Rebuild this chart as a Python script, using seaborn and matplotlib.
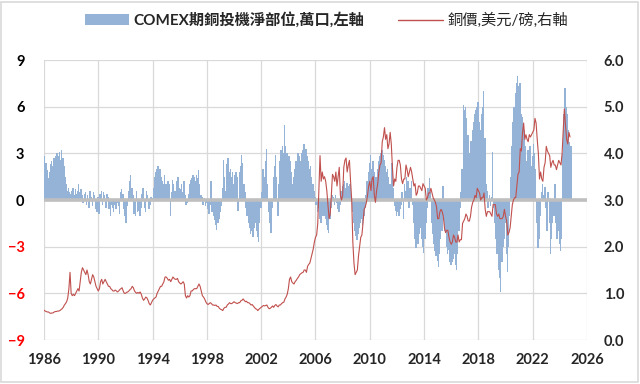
import numpy as np
import pandas as pd
import matplotlib
matplotlib.use('Agg')
import matplotlib.pyplot as plt
import seaborn as sns
from matplotlib.patches import Rectangle, Patch
from matplotlib.lines import Line2D

start_year = 1986

# COMEX copper speculative net position, 10k contracts, monthly (left axis)
net_pos = [
    2.8, 2.4, 1.9, 1.4, 1.8, 2.3, 2.5, 2.2, 2.7, 2.6, 2.8, 3.0,        # 1986
    2.8, 3.1, 2.6, 3.2, 2.7, 2.2, 1.5, 1.0, 0.6, 0.8, 0.5, 0.4,        # 1987
    0.6, 0.8, 0.3, 0.7, 0.4, 0.6, 1.0, 0.5, 0.7, 0.3, -0.2, 0.4,       # 1988
    0.5, -0.3, 0.3, -0.5, 0.6, 0.2, -0.4, 0.5, 0.3, -0.6, -0.8, 0.2,   # 1989
    -0.9, 0.4, 0.6, -0.3, 0.5, 0.3, -0.5, 0.4, 0.2, -0.6, -1.0, -0.3,  # 1990
    -0.5, -0.8, -0.3, -0.6, -0.2, -0.4, -0.9, 0.5, 0.7, 0.4, -0.6, -1.0,  # 1991
    -1.5, -0.4, 0.6, 1.2, 1.6, 0.8, 0.3, -0.9, -1.0, 0.6, -0.8, -0.7,  # 1992
    -1.0, -0.5, 0.4, 0.8, -0.5, -0.8, 0.6, 0.3, -0.6, -0.3, 0.2, 0.1,  # 1993
    0.8, 1.5, 1.8, 2.0, 2.2, 1.8, 2.0, 1.5, 1.2, 1.0, 1.6, 1.0,        # 1994
    0.8, 1.2, 1.0, -1.0, 0.5, 1.3, 1.0, 0.6, 0.4, 1.2, 1.5, 0.8,       # 1995
    0.7, 1.0, 0.5, 1.2, 0.3, -0.3, -0.2, 0.4, 1.0, 1.3, 1.4, 1.6,      # 1996
    1.5, 1.2, 1.6, 1.4, 1.9, 1.0, 0.3, 0.2, -0.3, 0.1, -0.4, -0.2,     # 1997
    -0.6, -0.9, -0.3, 1.2, -0.8, -1.0, -1.3, -1.6, -1.9, -1.5, -1.2, -0.8,  # 1998
    -0.4, 0.8, 2.6, 1.5, 0.6, 2.3, 2.7, 1.8, 2.0, 1.5, 1.8, 1.0,       # 1999
    1.6, 1.8, 1.5, -0.7, 1.8, 2.2, 2.9, 2.4, 1.0, 0.5, -0.5, -1.0,     # 2000
    -1.5, -1.8, -2.2, -2.0, -2.4, -1.8, -1.5, -2.0, -2.4, -2.7, -1.5, -0.5,  # 2001
    0.5, 2.0, 1.5, 2.5, 3.3, 1.0, -0.8, -1.5, -2.1, -0.5, 1.5, 2.2,    # 2002
    2.9, 1.5, -1.0, 1.0, 2.5, 3.2, 3.5, 3.0, 4.8, 3.5, 3.0, 2.6,       # 2003
    2.8, 2.5, 1.8, 1.0, 1.5, 2.0, 2.5, 2.2, 3.0, 2.8, 2.5, 3.0,        # 2004
    3.2, 3.6, 3.0, 3.3, 2.8, 2.5, 2.0, 2.2, 1.5, 1.0, 0.6, 0.2,        # 2005
    -0.3, -0.8, -0.5, -1.2, -1.5, -1.0, -0.8, -1.0, -1.2, -1.6, -1.9, -2.1,  # 2006
    -1.2, -0.5, 0.3, 0.2, -0.3, 0.3, -0.2, -0.6, -0.8, -0.3, 0.6, 0.9,  # 2007
    1.0, 1.2, 0.8, 1.1, 0.9, 0.6, 1.0, 0.2, -0.8, -1.5, -2.0, -2.3,    # 2008
    -2.6, -2.2, -1.8, -1.5, -1.2, -1.6, -1.0, -0.5, 0.3, 1.2, 1.8, 2.4,  # 2009
    2.9, 2.0, 2.5, 1.8, 1.0, 1.5, 2.0, 2.5, 2.8, 3.0, 3.2, 2.9,        # 2010
    2.6, 2.2, 1.8, 2.0, 1.5, 1.0, 0.5, 2.4, 0.8, -0.4, -0.7, -1.0,     # 2011
    -0.8, -1.0, -0.6, -0.3, 0.5, -1.2, 1.0, 0.6, 1.5, 1.2, -0.5, 0.8,  # 2012
    1.2, -0.3, -1.5, -2.5, -3.1, -2.0, -2.8, -2.2, -1.8, -2.5, -3.0, -3.4,  # 2013
    -2.5, -1.5, -0.5, 0.8, 1.4, 0.5, -1.5, -2.2, -2.8, -3.3, -3.6, -3.9,  # 2014
    -4.3, -3.5, -2.5, -2.0, 0.9, -1.0, -2.0, -3.0, -3.5, -3.2, -4.0, -4.2,  # 2015
    -4.0, -3.8, -3.5, -4.2, -4.5, -3.5, -2.0, -0.5, 0.5, 2.0, 6.1, 5.8,  # 2016
    6.0, 5.3, 4.2, 2.5, 3.0, 3.8, 4.5, 5.0, 5.5, 5.8, 6.0, 6.3,        # 2017
    5.0, 4.5, 5.5, 6.0, 7.0, 4.0, 1.0, 0.6, -0.5, 0.3, -0.4, 0.2,      # 2018
    3.1, -0.5, -1.5, -2.5, -3.5, -4.5, -5.0, -5.9, -4.0, -3.0, -2.5, -1.5,  # 2019
    -3.5, -4.6, -3.0, -1.0, 1.5, 3.5, 5.0, 6.0, 6.9, 7.5, 8.0, 7.3,    # 2020
    7.5, 5.5, 5.35, 4.8, 4.5, 3.5, 2.5, 3.2, 2.8, 3.5, 2.2, 2.8,       # 2021
    3.6, 3.0, 2.0, -1.5, -3.1, -2.5, -1.0, 0.5, 1.0, 0.3, 0.85, -0.5,  # 2022
    -2.0, 0.5, -1.5, -3.5, -2.5, -1.5, -1.0, 1.0, -1.5, -2.5, -2.0, -2.8,  # 2023
    -3.3, -2.5, 3.0, 5.5, 7.2, 6.0, 5.5, 4.5, 3.75, 3.5,               # 2024
]

# copper price, USD/lb, monthly (right axis)
copper = [
    0.64, 0.62, 0.61, 0.60, 0.60, 0.58, 0.57, 0.58, 0.58, 0.60, 0.61, 0.61,  # 1986
    0.62, 0.62, 0.63, 0.65, 0.67, 0.70, 0.75, 0.78, 0.82, 0.90, 1.10, 1.45,  # 1987
    1.00, 0.95, 0.98, 0.95, 1.00, 1.05, 1.10, 1.05, 1.25, 1.45, 1.55, 1.50,  # 1988
    1.45, 1.40, 1.50, 1.40, 1.25, 1.20, 1.30, 1.40, 1.35, 1.25, 1.15, 1.10,  # 1989
    1.05, 1.10, 1.25, 1.30, 1.20, 1.25, 1.30, 1.25, 1.20, 1.15, 1.15, 1.10,  # 1990
    1.08, 1.05, 1.05, 1.07, 1.05, 1.03, 1.05, 1.08, 1.10, 1.12, 1.05, 1.00,  # 1991
    1.00, 1.02, 1.03, 1.05, 1.08, 1.10, 1.15, 1.12, 1.05, 1.02, 1.00, 1.02,  # 1992
    1.00, 1.03, 0.98, 0.90, 0.85, 0.88, 0.92, 0.90, 0.85, 0.78, 0.75, 0.80,  # 1993
    0.85, 0.88, 0.90, 0.92, 1.00, 1.05, 1.10, 1.15, 1.15, 1.20, 1.25, 1.35,  # 1994
    1.35, 1.32, 1.28, 1.30, 1.25, 1.30, 1.35, 1.32, 1.30, 1.30, 1.32, 1.25,  # 1995
    1.22, 1.20, 1.22, 1.25, 1.20, 0.95, 0.90, 0.95, 0.92, 0.95, 1.05, 1.05,  # 1996
    1.08, 1.10, 1.10, 1.10, 1.15, 1.20, 1.15, 1.05, 0.95, 0.92, 0.88, 0.82,  # 1997
    0.78, 0.76, 0.78, 0.80, 0.78, 0.75, 0.75, 0.74, 0.75, 0.72, 0.72, 0.68,  # 1998
    0.66, 0.65, 0.63, 0.68, 0.70, 0.70, 0.75, 0.77, 0.80, 0.78, 0.78, 0.80,  # 1999
    0.82, 0.80, 0.79, 0.78, 0.80, 0.80, 0.84, 0.85, 0.88, 0.85, 0.82, 0.83,  # 2000
    0.80, 0.80, 0.78, 0.75, 0.76, 0.73, 0.70, 0.67, 0.66, 0.63, 0.66, 0.68,  # 2001
    0.70, 0.72, 0.74, 0.73, 0.74, 0.75, 0.70, 0.67, 0.68, 0.70, 0.73, 0.70,  # 2002
    0.74, 0.76, 0.73, 0.71, 0.75, 0.75, 0.78, 0.80, 0.81, 0.88, 0.92, 0.98,  # 2003
    1.10, 1.30, 1.35, 1.25, 1.22, 1.20, 1.25, 1.28, 1.32, 1.35, 1.40, 1.42,  # 2004
    1.44, 1.45, 1.50, 1.50, 1.45, 1.58, 1.62, 1.65, 1.75, 1.85, 1.95, 2.10,  # 2005
    2.20, 2.25, 2.50, 3.20, 3.95, 3.40, 3.60, 3.45, 3.50, 3.40, 3.20, 2.90,  # 2006
    2.60, 2.70, 3.10, 3.55, 3.50, 3.40, 3.60, 3.30, 3.50, 3.70, 3.10, 3.00,  # 2007
    3.10, 3.70, 3.85, 3.90, 3.60, 3.75, 3.85, 3.40, 3.00, 2.10, 1.65, 1.40,  # 2008
    1.45, 1.50, 1.80, 2.00, 2.20, 2.25, 2.50, 2.80, 2.85, 2.95, 3.10, 3.30,  # 2009
    3.40, 3.20, 3.45, 3.50, 3.10, 2.95, 3.20, 3.35, 3.60, 3.75, 3.80, 4.25,  # 2010
    4.35, 4.55, 4.30, 4.40, 4.10, 4.20, 4.45, 4.20, 3.70, 3.30, 3.45, 3.40,  # 2011
    3.70, 3.85, 3.85, 3.75, 3.45, 3.35, 3.45, 3.45, 3.75, 3.65, 3.50, 3.60,  # 2012
    3.70, 3.60, 3.45, 3.30, 3.35, 3.10, 3.15, 3.30, 3.30, 3.25, 3.20, 3.35,  # 2013
    3.30, 3.25, 3.00, 3.05, 3.15, 3.15, 3.25, 3.15, 3.05, 3.00, 2.95, 2.85,  # 2014
    2.60, 2.60, 2.75, 2.80, 2.75, 2.65, 2.40, 2.30, 2.35, 2.35, 2.20, 2.10,  # 2015
    2.05, 2.10, 2.25, 2.20, 2.10, 2.10, 2.25, 2.10, 2.15, 2.15, 2.50, 2.55,  # 2016
    2.60, 2.70, 2.65, 2.55, 2.55, 2.65, 2.85, 2.95, 3.00, 3.10, 3.05, 3.25,  # 2017
    3.20, 3.15, 3.00, 3.05, 3.05, 3.15, 2.80, 2.65, 2.75, 2.75, 2.75, 2.70,  # 2018
    2.65, 2.90, 2.90, 2.90, 2.70, 2.65, 2.70, 2.60, 2.60, 2.60, 2.65, 2.80,  # 2019
    2.65, 2.55, 2.25, 2.30, 2.40, 2.65, 2.90, 3.00, 3.05, 3.05, 3.30, 3.55,  # 2020
    3.60, 4.10, 4.05, 4.45, 4.65, 4.30, 4.40, 4.30, 4.25, 4.40, 4.35, 4.40,  # 2021
    4.45, 4.50, 4.75, 4.65, 4.30, 4.00, 3.45, 3.60, 3.45, 3.40, 3.70, 3.80,  # 2022
    4.15, 4.05, 4.00, 3.95, 3.70, 3.80, 3.85, 3.75, 3.75, 3.65, 3.75, 3.85,  # 2023
    3.80, 3.75, 4.00, 4.50, 4.95, 4.60, 4.30, 4.20, 4.45, 4.35,              # 2024
]

bar_label = 'COMEX期銅投機淨部位,萬口,左軸'
line_label = '銅價,美元/磅,右軸'
x_ticks = list(range(1986, 2027, 4))
left_ticks = [-9, -6, -3, 0, 3, 6, 9]
right_ticks = [0, 1, 2, 3, 4, 5, 6]

bar_color = '#95B3D7'
line_color = '#C0504D'
grid_color = '#D9D9D9'

months = np.arange(len(net_pos))
df = pd.DataFrame({'year': start_year + months / 12.0,
                   'net': net_pos, 'copper': copper})

sns.set_theme(style='white')
plt.rcParams['font.family'] = ['Lato', 'Noto Sans CJK TC', 'DejaVu Sans']

fig = plt.figure(figsize=(6.4, 3.84), dpi=100)
ax = fig.add_axes([44 / 640, 1 - 340 / 384, (587 - 44) / 640, 280 / 384])

# a bit wider than one month so neighbouring bars overlap, no white seams
ax.bar(df['year'], df['net'], width=0.11, align='edge', color=bar_color,
       linewidth=0, zorder=2)
ax.axhline(0, color='#BFBFBF', lw=2.6, zorder=3)

ax.set_xlim(1986, 2026)
ax.set_ylim(-9, 9)
ax.set_xticks(x_ticks)
ax.set_yticks(left_ticks)
ax.grid(True, color=grid_color, lw=0.9)
ax.set_axisbelow(True)
ax.tick_params(axis='both', length=0, labelsize=10.5)
ax.tick_params(axis='x', pad=9)
ax.tick_params(axis='y', pad=14)
for lab in ax.get_xticklabels() + ax.get_yticklabels():
    lab.set_fontweight('bold')
for lab, v in zip(ax.get_yticklabels(), left_ticks):
    lab.set_color('#FF0000' if v < 0 else 'black')
for s in ax.spines.values():
    s.set_visible(False)
ax.set_xlabel('')
ax.set_ylabel('')

ax2 = ax.twinx()
sns.lineplot(data=df, x='year', y='copper', ax=ax2, color=line_color,
             lw=0.8, legend=False)
ax2.set_ylim(0, 6)
ax2.set_yticks(right_ticks)
ax2.set_yticklabels(['%.1f' % v for v in right_ticks], fontweight='bold')
ax2.tick_params(axis='y', length=0, labelsize=10.5, pad=12)
ax2.grid(False)
for s in ax2.spines.values():
    s.set_visible(False)
ax2.set_xlabel('')
ax2.set_ylabel('')

handles = [Patch(facecolor=bar_color, edgecolor='none'),
           Line2D([0], [0], color=line_color, lw=1)]
leg = fig.legend(handles, [bar_label, line_label], loc='center',
                 bbox_to_anchor=(0.51, 0.948), ncol=2, frameon=False,
                 fontsize=11, handlelength=2.9, handletextpad=0.3,
                 columnspacing=2.2)
leg.get_texts()[0].set_fontweight('bold')

fig.patches.append(Rectangle((0.002, 0.004), 0.995, 0.99, transform=fig.transFigure,
                             fill=False, edgecolor=grid_color, lw=1.2))

fig.savefig('out.png', dpi=100)
